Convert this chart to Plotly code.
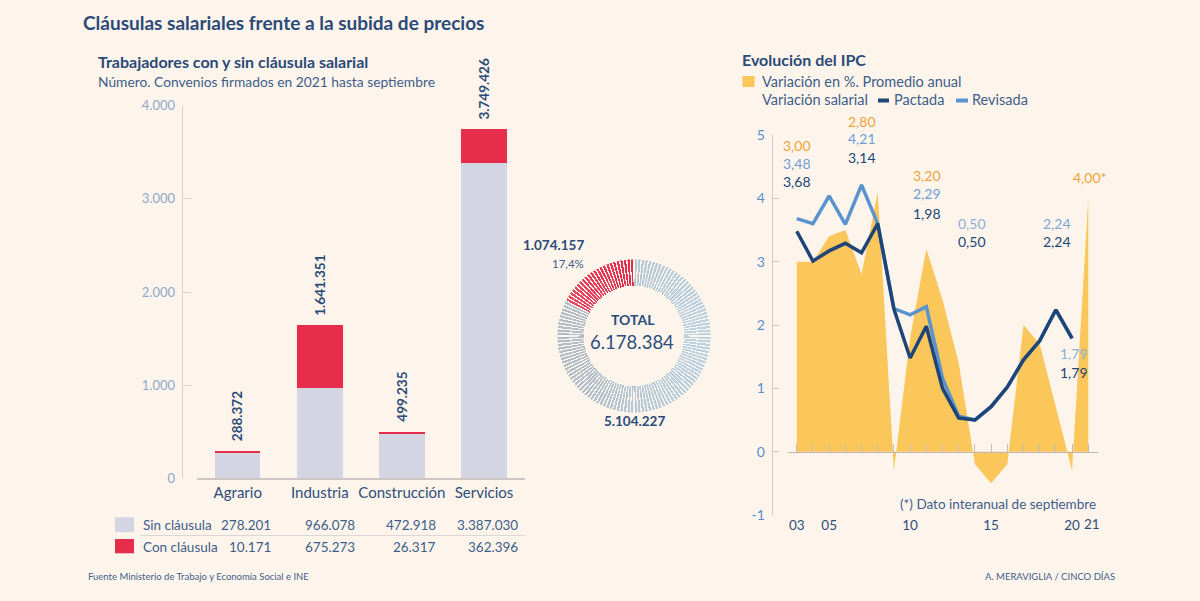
import math
import plotly.graph_objects as go

W, H = 1200, 601
def px(x): return x / W
def py(y): return 1 - y / H

FONT = "Lato"
BG = "#fdf5ec"
DARK = "#2b4a78"
MID = "#3f5d8a"

# ---------------- data ----------------
categorias = ["Agrario", "Industria", "Construcción", "Servicios"]
sin_clausula = [278201, 966078, 472918, 3387030]
con_clausula = [10171, 675273, 26317, 362396]
totales = [288372, 1641351, 499235, 3749426]
bar_ticks = [0, 1000, 2000, 3000, 4000]
bar_ticktext = ["0", "1.000", "2.000", "3.000", "4.000"]

total_con = 1074157
total_sin = 5104227
total_all = 6178384
pct_con = "17,4%"

years = list(range(2003, 2022))
ipc = [3.0, 3.0, 3.4, 3.5, 2.8, 4.1, -0.3, 1.8, 3.2, 2.4, 1.4, -0.2, -0.5, -0.2, 2.0, 1.7, 0.7, -0.3, 4.0]
years_sal = list(range(2003, 2021))
pactada = [3.48, 3.01, 3.17, 3.29, 3.14, 3.60, 2.25, 1.48, 1.98, 1.00, 0.53, 0.50, 0.71, 1.02, 1.45, 1.75, 2.24, 1.79]
revisada = [3.68, 3.60, 4.04, 3.59, 4.21, 3.60, 2.26, 2.16, 2.29, 1.16, 0.56, 0.50, 0.71, 1.02, 1.45, 1.75, 2.24, 1.79]
year_tickvals = [2003, 2005, 2010, 2015, 2020]
year_ticktext = ["03", "05", "10", "15", "20"]
last_year, last_year_text = 2021, "21"
ipc_yticks = [-1, 0, 1, 2, 3, 4, 5]

def fmt(n):
    return f"{n:,}".replace(",", ".")

C_SIN = "#d3d5e3"
C_CON = "#e72d4c"
C_IPC = "#fbc65a"
C_PAC = "#1e4478"
C_REV = "#5b93cf"
C_ORG = "#f0a236"
C_LBL = "#6f9dd2"
AXC = "#cdc6c2"

fig = go.Figure()

# ---------------- left: stacked bars ----------------
fig.add_trace(go.Bar(x=categorias, y=[v / 1000 for v in sin_clausula], marker=dict(color=C_SIN, line=dict(width=0)),
                     xaxis="x", yaxis="y", hoverinfo="skip"))
fig.add_trace(go.Bar(x=categorias, y=[v / 1000 for v in con_clausula], marker=dict(color=C_CON, line=dict(width=0)),
                     xaxis="x", yaxis="y", hoverinfo="skip"))

# ---------------- right: IPC ----------------
fig.add_trace(go.Scatter(x=years, y=ipc, mode="lines", line=dict(width=0, color=C_IPC), fill="tozeroy",
                         fillcolor=C_IPC, xaxis="x2", yaxis="y2", hoverinfo="skip"))
fig.add_trace(go.Scatter(x=years_sal, y=revisada, mode="lines", line=dict(width=3.5, color=C_REV),
                         xaxis="x2", yaxis="y2", hoverinfo="skip"))
fig.add_trace(go.Scatter(x=years_sal, y=pactada, mode="lines", line=dict(width=3.5, color=C_PAC),
                         xaxis="x2", yaxis="y2", hoverinfo="skip"))
# dummy trace to materialise the zero-line axis
fig.add_trace(go.Scatter(x=[years[0]], y=[0], mode="markers", marker=dict(opacity=0), xaxis="x3", yaxis="y2",
                         hoverinfo="skip"))

# ---------------- donut (spokes) ----------------
N = 132
share = total_con / total_all
thetas, colors = [], []
def mix(c1, c2, t):
    a = [int(c1[i:i + 2], 16) for i in (1, 3, 5)]
    b = [int(c2[i:i + 2], 16) for i in (1, 3, 5)]
    return "#%02x%02x%02x" % tuple(round(a[k] + (b[k] - a[k]) * t) for k in range(3))
for i in range(N):
    th = (i + 0.5) * 360 / N
    thetas.append(th)
    if (i + 0.5) / N < share:
        colors.append(mix("#e52c4b", "#ea4662", th / (share * 360)))
    else:
        t = (1 - math.sin(math.radians(th))) / 2
        colors.append(mix("#b2bdc7", "#bbd2e2", t))
fig.add_trace(go.Barpolar(r=[0.345] * N, base=0.655, theta=thetas, width=[360 / N * 0.62] * N,
                          marker=dict(color=colors, line=dict(width=0)), subplot="polar", hoverinfo="skip"))

y0_paper = py(515) + (0 - (-1)) / 6 * (py(135) - py(515))

fig.update_layout(
    width=W, height=H, margin=dict(l=0, r=0, t=0, b=0, pad=0, autoexpand=False),
    paper_bgcolor=BG, plot_bgcolor="rgba(0,0,0,0)",
    showlegend=False, barmode="stack", bargap=0.446,
    font=dict(family=FONT, color=DARK),
    xaxis=dict(domain=[px(196.7), px(525)], anchor="y", range=[-0.5, 3.5], showline=True, linecolor=AXC,
               linewidth=1.5, ticks="", showgrid=False, zeroline=False, automargin=False,
               tickfont=dict(size=15, color="#2f4d7a", family=FONT)),
    yaxis=dict(domain=[py(478.3), py(105.7)], anchor="free", position=px(181.7), range=[0, 4000],
               showline=True, linecolor="#d8d1cd", linewidth=1, ticks="inside", ticklen=8, tickcolor="#d8d1cd",
               tickvals=bar_ticks, ticktext=bar_ticktext, showgrid=False, zeroline=False, ticklabelstandoff=4,
               automargin=False, tickfont=dict(size=13, color="#8fa9c9", family=FONT)),
    xaxis2=dict(domain=[px(788), px(1098)], anchor="y2", range=[2002.46, 2021.6], showline=False, ticks="",
                tickvals=year_tickvals, ticktext=year_ticktext, showgrid=False, zeroline=False, tickangle=0,
                automargin=False, tickfont=dict(size=13.5, color="#2f4d7a", family=FONT)),
    xaxis3=dict(overlaying="x2", matches="x2", anchor="free", position=y0_paper, showline=True, linecolor="#bdb6b3",
                linewidth=1.2, ticks="inside", tickvals=years, ticklen=8, tickcolor="#c3bcb8", tickwidth=1,
                showticklabels=False, showgrid=False, zeroline=False, automargin=False),
    yaxis2=dict(domain=[py(515), py(135)], anchor="free", position=px(771.7), range=[-1, 5], showline=True,
                linecolor="#d0c9c5", linewidth=1, ticks="inside", ticklen=6, tickcolor="#d0c9c5",
                tickvals=ipc_yticks, ticktext=[str(v) for v in ipc_yticks], showgrid=False, zeroline=False,
                ticklabelstandoff=4, automargin=False, tickfont=dict(size=14, color="#5b8fcb", family=FONT)),
    polar=dict(domain=dict(x=[px(557.3), px(710.7)], y=[py(412.7), py(259.3)]), bgcolor="rgba(0,0,0,0)",
               radialaxis=dict(visible=False, range=[0, 1]),
               angularaxis=dict(visible=False, rotation=90, direction="counterclockwise")),
)

ann = []
def A(x, y, text, size, color, bold=False, xanchor="center", yanchor="middle", **kw):
    d = dict(x=px(x), y=py(y), xref="paper", yref="paper", text=text, showarrow=False, xanchor=xanchor,
             yanchor=yanchor, font=dict(family=FONT, size=size, color=color,
                                        weight="bold" if bold else "normal"))
    d.update(kw)
    ann.append(d)

# titles
A(81, 23, "Cláusulas salariales frente a la subida de precios", 19, DARK, True, "left")
A(96, 61, "Trabajadores con y sin cláusula salarial", 16, DARK, True, "left")
A(96, 81, "Número. Convenios firmados en 2021 hasta septiembre", 13.8, MID, False, "left")
A(740, 59, "Evolución del IPC", 16, DARK, True, "left")
A(760, 81, "Variación en %. Promedio anual", 14.5, MID, False, "left")
A(760, 100, "Variación salarial", 14.5, MID, False, "left")
A(892, 100, "Pactada", 14.5, MID, False, "left")
A(970, 100, "Revisada", 14.5, MID, False, "left")

# bar totals (rotated)
for c, t in zip(categorias, totales):
    ann.append(dict(x=c, y=t / 1000, xref="x", yref="y", text=fmt(t), showarrow=False, textangle=-90,
                    xanchor="center", yanchor="bottom", yshift=8,
                    font=dict(family=FONT, size=13.5, color=DARK, weight="bold")))

# last year tick label (kept apart from "20")
ann.append(dict(x=last_year, y=-1, xref="x2", yref="y2", text=last_year_text, showarrow=False,
                xanchor="center", yanchor="middle", xshift=3.5, yshift=-8.5,
                font=dict(family=FONT, size=13.5, color="#2f4d7a")))

# table
row_y = [525, 546.7]
right_edges = [272.7, 356.7, 437.7, 520]
A(141, row_y[0], "Sin cláusula", 13.5, MID, False, "left")
A(141, row_y[1], "Con cláusula", 13.5, MID, False, "left")
for xe, v in zip(right_edges, sin_clausula):
    A(xe, row_y[0], fmt(v), 13.5, MID, False, "right")
for xe, v in zip(right_edges, con_clausula):
    A(xe, row_y[1], fmt(v), 13.5, MID, False, "right")

# donut texts
A(586, 245, fmt(total_con), 13.5, DARK, True, "right")
A(586, 263, pct_con, 11.5, MID, False, "right")
A(633, 319, "TOTAL", 14, DARK, True)
A(632, 342, fmt(total_all), 18.5, "#2f4d7a", False)
A(634, 421, fmt(total_sin), 13.5, DARK, True)

# IPC labels
ipc_labels = [
    (797, 145, "3,00", C_ORG), (797, 163, "3,48", C_LBL), (797, 182, "3,68", C_PAC),
    (862, 121, "2,80", C_ORG), (862, 138.5, "4,21", C_LBL), (862, 157, "3,14", C_PAC),
    (927, 176, "3,20", C_ORG), (927, 194, "2,29", C_LBL), (927, 213.3, "1,98", C_PAC),
    (972, 223, "0,50", "#8fb0d8"), (972, 241, "0,50", C_PAC),
    (1057, 223, "2,24", "#7fa5d3"), (1057, 242, "2,24", C_PAC),
    (1073.5, 353, "1,79", "#8fb0d8"), (1073.5, 372, "1,79", C_PAC),
    (1090, 177.5, "4,00*", C_ORG),
]
for x, y, t, c in ipc_labels:
    A(x, y, t, 14, c)
A(1098, 504, "(*) Dato interanual de septiembre", 13.5, MID, False, "right")

# footer
A(86, 576, "Fuente Ministerio de Trabajo y Economía Social e INE", 9.5, MID, False, "left")
A(1117, 576.5, "A. MERAVIGLIA / CINCO DÍAS", 9.5, MID, False, "right")

fig.update_layout(annotations=ann)

shapes = [
    dict(type="rect", xref="paper", yref="paper", x0=px(115), x1=px(134), y0=py(532.3), y1=py(517.3),
         fillcolor=C_SIN, line=dict(width=0)),
    dict(type="rect", xref="paper", yref="paper", x0=px(115), x1=px(134), y0=py(553.3), y1=py(539),
         fillcolor=C_CON, line=dict(width=0)),
    dict(type="line", xref="paper", yref="paper", x0=px(140), x1=px(525), y0=py(535.5), y1=py(535.5),
         line=dict(color="#ddd6d4", width=1.2)),
    dict(type="rect", xref="paper", yref="paper", x0=px(742.5), x1=px(754.5), y0=py(87), y1=py(76),
         fillcolor=C_IPC, line=dict(width=0)),
    dict(type="line", xref="paper", yref="paper", x0=px(878), x1=px(889), y0=py(100.5), y1=py(100.5),
         line=dict(color=C_PAC, width=4)),
    dict(type="line", xref="paper", yref="paper", x0=px(956), x1=px(968), y0=py(100.5), y1=py(100.5),
         line=dict(color=C_REV, width=4)),
]
fig.update_layout(shapes=shapes)

fig.write_html("out.html", config={"displayModeBar": False},
               post_script="document.body.style.margin='0';document.body.style.overflow='hidden';")
